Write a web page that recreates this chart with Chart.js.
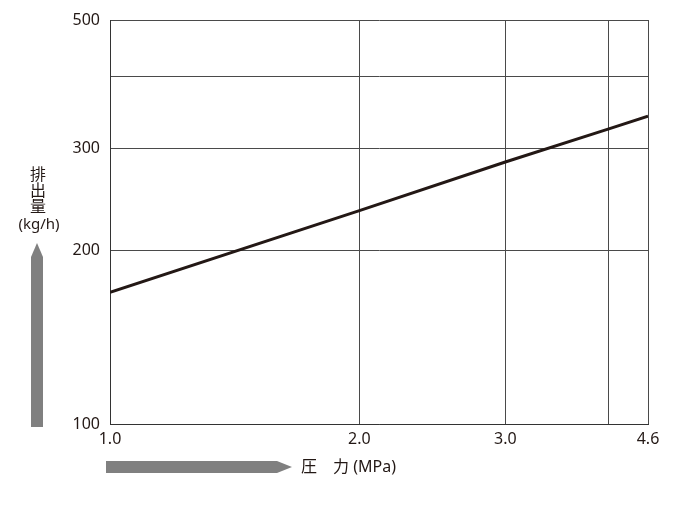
<!DOCTYPE html>
<html>
<head>
<meta charset="utf-8">
<script src="https://cdn.jsdelivr.net/npm/chart.js@4/dist/chart.umd.min.js"></script>
<style>
  html, body { margin: 0; padding: 0; background: #fff; }
  #wrap { width: 700px; height: 510px; position: relative; }
</style>
</head>
<body>
<div id="wrap"><canvas id="chart"></canvas></div>
<script>
// pressure (MPa) vs discharge (kg/h)
const pressure = [1.0, 2.0, 3.0, 4.0, 4.46]
const discharge = [169, 234, 284, 324, 341]

const xTickValues = [1, 2, 3, 4, 4.46]
const xTickLabels = ['1.0', '2.0', '3.0', '', '4.6']
const yTickValues = [100, 200, 300, 400, 500]
const yTickLabels = ['100', '200', '300', '', '500']

const yTitleChars = ['排', '出', '量']
const yTitleUnit = '(kg/h)'
const xTitle = '圧　力 (MPa)'

const FONT = '"Noto Sans", "Noto Sans CJK JP", sans-serif'
Chart.defaults.font.family = FONT
Chart.defaults.font.size = 16
Chart.defaults.color = '#231815'

// gray arrows and axis titles around the plot
const decorPlugin = {
    id: 'decor',
    afterDraw(chart) {
        const ctx = chart.ctx
        ctx.save()
        ctx.fillStyle = '#808080'

        // up arrow
        ctx.beginPath()
        ctx.moveTo(31, 427)
        ctx.lineTo(31, 257)
        ctx.lineTo(37, 243)
        ctx.lineTo(43, 257)
        ctx.lineTo(43, 427)
        ctx.closePath()
        ctx.fill()

        // right arrow
        ctx.beginPath()
        ctx.moveTo(106, 461)
        ctx.lineTo(277, 461)
        ctx.lineTo(292, 467)
        ctx.lineTo(277, 473)
        ctx.lineTo(106, 473)
        ctx.closePath()
        ctx.fill()

        ctx.fillStyle = '#231815'
        ctx.font = '16px ' + FONT
        ctx.textAlign = 'center'
        ctx.textBaseline = 'middle'
        for (var i = 0; i < yTitleChars.length; i++) {
            ctx.fillText(yTitleChars[i], 38, 175 + i * 16)
        }
        ctx.font = '15px ' + FONT
        ctx.fillText(yTitleUnit, 39, 225)

        ctx.textAlign = 'left'
        ctx.font = '16px ' + FONT
        ctx.fillText(xTitle, 301, 467)
        ctx.restore()
    }
}

new Chart(document.getElementById('chart'), {
    type: 'line',
    data: {
        datasets: [{
            data: pressure.map((p, i) => ({ x: p, y: discharge[i] })),
            borderColor: '#231815',
            borderWidth: 3,
            pointRadius: 0,
            tension: 0,
            fill: false
        }]
    },
    options: {
        responsive: true,
        maintainAspectRatio: false,
        animation: false,
        layout: { padding: { left: 0, right: 52, top: 20, bottom: 0 } },
        plugins: {
            legend: { display: false },
            tooltip: { enabled: false }
        },
        scales: {
            x: {
                type: 'logarithmic',
                min: xTickValues[0],
                max: xTickValues[xTickValues.length - 1],
                afterBuildTicks: axis => { axis.ticks = xTickValues.map(v => ({ value: v })) },
                afterFit: axis => { axis.height = 86 },
                grid: { color: '#4a4a4a', lineWidth: 1, drawTicks: false },
                border: { color: '#333', width: 1 },
                ticks: {
                    padding: 6,
                    color: '#231815',
                    font: { family: FONT, size: 16 },
                    maxRotation: 0,
                    autoSkip: false,
                    callback: (v, i) => xTickLabels[i]
                }
            },
            y: {
                type: 'logarithmic',
                min: yTickValues[0],
                max: yTickValues[yTickValues.length - 1],
                afterBuildTicks: axis => { axis.ticks = yTickValues.map(v => ({ value: v })) },
                afterFit: axis => { axis.width = 110 },
                grid: { color: '#4a4a4a', lineWidth: 1, drawTicks: false },
                border: { color: '#333', width: 1 },
                ticks: {
                    padding: 10,
                    color: '#231815',
                    font: { family: FONT, size: 16 },
                    autoSkip: false,
                    callback: (v, i) => yTickLabels[i]
                }
            }
        }
    },
    plugins: [decorPlugin]
});
</script>
</body>
</html>
